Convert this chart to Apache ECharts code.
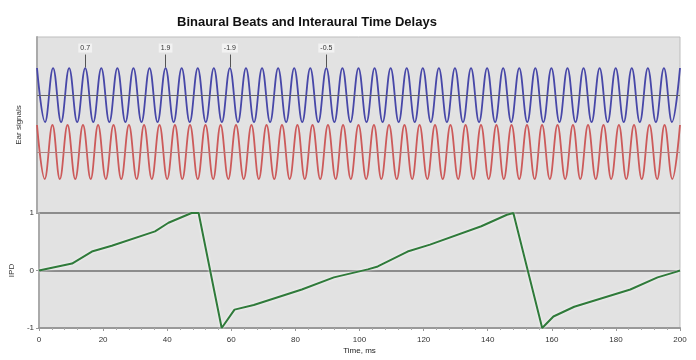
<!DOCTYPE html>
<html>
<head>
<meta charset="utf-8">
<script src="https://cdn.jsdelivr.net/npm/echarts@6/dist/echarts.min.js"></script>
<style>
  html, body { margin: 0; padding: 0; background: #ffffff; }
  #chart { width: 696px; height: 360px; }
</style>
</head>
<body>
<div id="chart"></div>
<script>
const title = "Binaural Beats and Interaural Time Delays";

// left ear signal: peaks and troughs, t in ms
const leftEar = [
  [0, 1], [2.5, -1], [5, 1], [7.5, -1], [10, 1], [12.5, -1], [15, 1], [17.5, -1], [20, 1], [22.5, -1],
  [25, 1], [27.5, -1], [30, 1], [32.5, -1], [35, 1], [37.5, -1], [40, 1], [42.5, -1], [45, 1], [47.5, -1],
  [50, 1], [52.5, -1], [55, 1], [57.5, -1], [60, 1], [62.5, -1], [65, 1], [67.5, -1], [70, 1], [72.5, -1],
  [75, 1], [77.5, -1], [80, 1], [82.5, -1], [85, 1], [87.5, -1], [90, 1], [92.5, -1], [95, 1], [97.5, -1],
  [100, 1], [102.5, -1], [105, 1], [107.5, -1], [110, 1], [112.5, -1], [115, 1], [117.5, -1], [120, 1], [122.5, -1],
  [125, 1], [127.5, -1], [130, 1], [132.5, -1], [135, 1], [137.5, -1], [140, 1], [142.5, -1], [145, 1], [147.5, -1],
  [150, 1], [152.5, -1], [155, 1], [157.5, -1], [160, 1], [162.5, -1], [165, 1], [167.5, -1], [170, 1], [172.5, -1],
  [175, 1], [177.5, -1], [180, 1], [182.5, -1], [185, 1], [187.5, -1], [190, 1], [192.5, -1], [195, 1], [197.5, -1],
  [200, 1]
];

// right ear signal: peaks and troughs, t in ms
const rightEar = [
  [0, 1], [2.4, -1], [4.8, 1], [7.1, -1], [9.5, 1], [11.9, -1], [14.3, 1], [16.7, -1], [19.0, 1], [21.4, -1],
  [23.8, 1], [26.2, -1], [28.6, 1], [31.0, -1], [33.3, 1], [35.7, -1], [38.1, 1], [40.5, -1], [42.9, 1], [45.2, -1],
  [47.6, 1], [50.0, -1], [52.4, 1], [54.8, -1], [57.1, 1], [59.5, -1], [61.9, 1], [64.3, -1], [66.7, 1], [69.0, -1],
  [71.4, 1], [73.8, -1], [76.2, 1], [78.6, -1], [81.0, 1], [83.3, -1], [85.7, 1], [88.1, -1], [90.5, 1], [92.9, -1],
  [95.2, 1], [97.6, -1], [100.0, 1], [102.4, -1], [104.8, 1], [107.1, -1], [109.5, 1], [111.9, -1], [114.3, 1], [116.7, -1],
  [119.0, 1], [121.4, -1], [123.8, 1], [126.2, -1], [128.6, 1], [131.0, -1], [133.3, 1], [135.7, -1], [138.1, 1], [140.5, -1],
  [142.9, 1], [145.2, -1], [147.6, 1], [150.0, -1], [152.4, 1], [154.8, -1], [157.1, 1], [159.5, -1], [161.9, 1], [164.3, -1],
  [166.7, 1], [169.0, -1], [171.4, 1], [173.8, -1], [176.2, 1], [178.6, -1], [181.0, 1], [183.3, -1], [185.7, 1], [188.1, -1],
  [190.5, 1], [192.9, -1], [195.2, 1], [197.6, -1], [200.0, 1]
];

// interaural phase difference
const ipd = [
  [0, 0], [10.3, 0.12], [16.5, 0.33], [22.7, 0.43], [36.2, 0.68], [40.4, 0.83], [47.6, 1], [49.8, 1],
  [57, -1], [61, -0.68], [67, -0.6], [82, -0.33], [92, -0.12], [102.6, 0.02], [105.7, 0.07],
  [115, 0.33], [122, 0.45], [138, 0.77], [146, 0.97], [148, 1],
  [157, -1], [160.5, -0.8], [167, -0.63], [184.5, -0.33], [193, -0.12], [199, -0.02], [200, 0]
];

// labelled peaks on the left ear signal
const markTimes = [15, 40, 60, 90];
const markLabels = ["0.7", "1.9", "-1.9", "-0.5"];

const timeTicks = { min: 0, max: 200, interval: 20 };

const chart = echarts.init(document.getElementById("chart"), null, { renderer: "canvas" });

const gray = "#e2e2e2";
const font = "Liberation Sans";

chart.setOption({
  animation: false,
  textStyle: { fontFamily: font },
  title: {
    text: title,
    left: 172,
    top: 11,
    textStyle: { fontSize: 13, fontWeight: "bold", color: "#111", fontFamily: font }
  },
  grid: [
    { left: 37, right: 16, top: 37, height: 176, show: true, backgroundColor: gray, borderColor: "#bdbdbd", borderWidth: 1 },
    { left: 37, right: 16, top: 213, bottom: 32, show: true, backgroundColor: gray, borderColor: "#bdbdbd", borderWidth: 1 }
  ],
  xAxis: [
    { gridIndex: 0, type: "value", min: timeTicks.min, max: timeTicks.max, show: false },
    {
      gridIndex: 1, type: "value", min: timeTicks.min, max: timeTicks.max, interval: timeTicks.interval,
      name: "Time, ms", nameLocation: "middle", nameGap: 19,
      nameTextStyle: { fontSize: 8, color: "#222" },
      axisLine: { onZero: false, lineStyle: { color: "#999", width: 2 } },
      axisTick: { length: 3, lineStyle: { color: "#999" } },
      minorTick: { show: true, splitNumber: 5, length: 2, lineStyle: { color: "#aaa" } },
      axisLabel: { fontSize: 8, color: "#333", margin: 8 },
      splitLine: { show: false }
    }
  ],
  yAxis: [
    {
      gridIndex: 0, type: "value", min: -4.37, max: 2.15,
      name: "Ear signals", nameLocation: "middle", nameGap: 14, nameRotate: 90,
      nameTextStyle: { fontSize: 8, color: "#333" },
      axisLine: { show: true, lineStyle: { color: "#aaa", width: 2 } },
      axisTick: { show: false }, axisLabel: { show: false }, splitLine: { show: false }
    },
    {
      gridIndex: 0, type: "value", min: -2.26, max: 4.26, show: false, splitLine: { show: false }
    },
    {
      gridIndex: 1, type: "value", min: -1, max: 1, interval: 1,
      name: "IPD", nameLocation: "middle", nameGap: 18, nameRotate: 90,
      nameTextStyle: { fontSize: 8, color: "#333" },
      axisLine: { show: true, lineStyle: { color: "#aaa", width: 2 } },
      axisTick: { show: true, length: 3, lineStyle: { color: "#999" } },
      axisLabel: { fontSize: 8, color: "#333", margin: 5 },
      splitLine: { show: true, lineStyle: { color: "#8c8c8c", width: 2 } }
    }
  ],
  series: [
    {
      name: "Left",
      type: "line",
      xAxisIndex: 0, yAxisIndex: 0,
      data: leftEar,
      smooth: 0.4,
      showSymbol: false,
      lineStyle: { color: "#4747a8", width: 1.8 },
      markLine: {
        silent: true,
        symbol: "none",
        lineStyle: { color: "#666", width: 1, type: "solid" },
        label: { show: false },
        data: [
          { yAxis: 0 },
          ...markTimes.map((t, i) => [
            {
              coord: [t, 1.5],
              label: {
                show: true, position: "start", formatter: markLabels[i],
                fontSize: 7, color: "#333", backgroundColor: "#f2f2f2", padding: [1, 2], distance: 2
              },
              lineStyle: { color: "#555" }
            },
            { coord: [t, 1.02] }
          ])
        ]
      }
    },
    {
      name: "Right",
      type: "line",
      xAxisIndex: 0, yAxisIndex: 1,
      data: rightEar,
      smooth: 0.4,
      showSymbol: false,
      lineStyle: { color: "#cc5a5a", width: 1.8 },
      markLine: {
        silent: true,
        symbol: "none",
        lineStyle: { color: "#b08080", width: 1, type: "solid" },
        label: { show: false },
        data: [{ yAxis: 0 }]
      }
    },
    {
      name: "IPD",
      type: "line",
      xAxisIndex: 1, yAxisIndex: 2,
      data: ipd,
      showSymbol: false,
      lineStyle: { color: "#2f7a3a", width: 2, shadowColor: "rgba(255,255,255,0.9)", shadowBlur: 3 }
    }
  ]
});
</script>
</body>
</html>
